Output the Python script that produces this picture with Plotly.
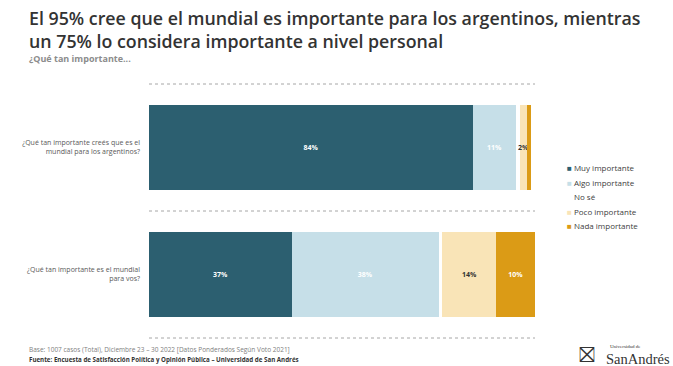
import plotly.graph_objects as go

questions = [
    "¿Qué tan importante creés que es el<br>mundial para los argentinos?",
    "¿Qué tan importante es el mundial<br>para vos?",
]
series_names = ["Muy importante", "Algo importante", "No sé", "Poco importante", "Nada importante"]
muy = [84, 37]
algo = [11, 38]
nose = [1, 1]
poco = [2, 14]
nada = [1, 10]
series_values = [muy, algo, nose, poco, nada]

colors = ["#2C5F70", "#C6DFE8", "#FFFFFF", "#F9E4B7", "#DB9B16"]
text_colors = ["#FFFFFF", "#FFFFFF", "#FFFFFF", "#333333", "#FFFFFF"]
legend_marker_colors = ["#2C5F70", "#C6DFE8", "rgba(0,0,0,0)", "#F9E4B7", "#DB9B16"]

fig = go.Figure()
for name, vals, c, tc in zip(series_names, series_values, colors, text_colors):
    labels = [f"{v}%" if (v >= 2 and name != "No sé") else "" for v in vals]
    fig.add_trace(go.Bar(
        y=questions, x=vals, name=name, orientation="h",
        marker=dict(color=c, line=dict(width=0)),
        text=labels, texttemplate="%{text}", textposition="inside", textangle=0,
        insidetextanchor="middle", constraintext="none",
        textfont=dict(family="Open Sans", size=7, color=tc, weight=700),
        showlegend=False, hoverinfo="skip",
    ))

LX = lambda px: (px - 149) / 386.0

# manual compact legend
for i, (name, mc) in enumerate(zip(series_names, legend_marker_colors)):
    fig.add_annotation(
        xref="paper", yref="paper", x=1.078, y=0.67 - i * 0.057,
        xanchor="left", yanchor="middle", showarrow=False,
        text=f"<span style='color:{mc}'>■</span> {name}",
        font=dict(family="Open Sans", size=8, color="#404040"),
    )

# dotted separators
for yy in [0, 0.5, 1]:
    fig.add_shape(type="line", xref="paper", yref="paper", x0=0, x1=1, y0=yy, y1=yy,
                  line=dict(color="#A6A6A6", width=1, dash="dot"))

# titles
fig.add_annotation(xref="paper", yref="paper", x=LX(27), y=1.0, xanchor="left", yanchor="top",
                   showarrow=False, align="left", yshift=80,
                   text="El 95% cree que el mundial es importante para los argentinos, mientras<br>un 75% lo considera importante a nivel personal",
                   font=dict(family="Open Sans", size=17.8, color="#333333", weight=600))
fig.add_annotation(xref="paper", yref="paper", x=LX(27), y=1.0, xanchor="left", yanchor="top",
                   showarrow=False, align="left", yshift=34,
                   text="¿Qué tan importante...",
                   font=dict(family="Open Sans", size=9, color="#8C8C8C", weight=700))
# footer
fig.add_annotation(xref="paper", yref="paper", x=LX(27), y=0, xanchor="left", yanchor="top",
                   showarrow=False, align="left", yshift=-5,
                   text="Base: 1007 casos (Total), Diciembre 23 – 30 2022 [Datos Ponderados Según Voto 2021]",
                   font=dict(family="Open Sans", size=6.5, color="#808080"))
fig.add_annotation(xref="paper", yref="paper", x=LX(27), y=0, xanchor="left", yanchor="top",
                   showarrow=False, align="left", yshift=-15,
                   text="Fuente: Encuesta de Satisfacción Política y Opinión Pública – Universidad de San Andrés",
                   font=dict(family="Open Sans", size=6.2, color="#333333", weight=700))
# logo
fig.add_annotation(xref="paper", yref="paper", x=LX(577), y=0, xanchor="left", yanchor="top",
                   showarrow=False, yshift=-3, text="⛝",
                   font=dict(family="DejaVu Sans", size=21, color="#333333"))
fig.add_annotation(xref="paper", yref="paper", x=LX(608), y=0, xanchor="left", yanchor="top",
                   showarrow=False, yshift=-4, text="Universidad de",
                   font=dict(family="Liberation Serif", size=5, color="#333333"))
fig.add_annotation(xref="paper", yref="paper", x=LX(604), y=0, xanchor="left", yanchor="top",
                   showarrow=False, yshift=-11, text="SanAndrés",
                   font=dict(family="Liberation Serif", size=14.5, color="#333333"))

fig.update_layout(
    width=673, height=366,
    margin=dict(l=149, r=138, t=84, b=28),
    barmode="stack", bargap=0.33,
    plot_bgcolor="white", paper_bgcolor="white",
    showlegend=False,
    xaxis=dict(range=[0, 100], visible=False, fixedrange=True),
    yaxis=dict(autorange="reversed", showgrid=False, zeroline=False, showline=False,
               ticks="", ticklabelstandoff=8,
               tickfont=dict(family="Open Sans", size=7, color="#595959")),
    font=dict(family="Open Sans"),
)

fig.write_html("out.html", config={"displayModeBar": False},
               post_script="document.body.style.margin='0';document.body.style.overflow='hidden';")
